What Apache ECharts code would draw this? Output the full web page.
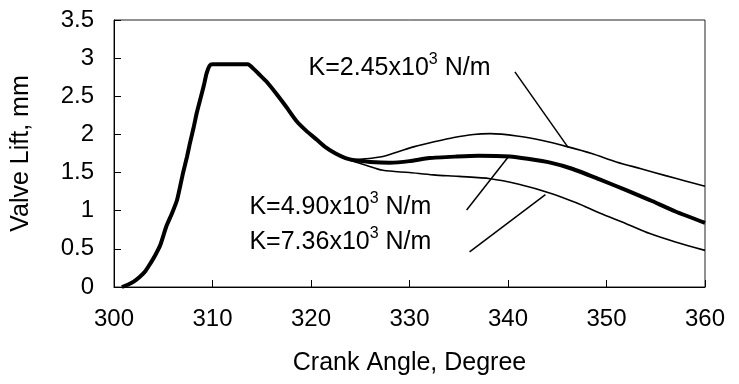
<!DOCTYPE html>
<html>
<head>
<meta charset="utf-8">
<script src="https://cdn.jsdelivr.net/npm/echarts@6/dist/echarts.min.js"></script>
<style>html,body{margin:0;padding:0;background:#fff}#c{width:739px;height:384px}</style>
</head>
<body>
<div id="c"></div>
<script>
// Crank angle (deg), valve lift (mm)
const k490 = [[300.8,0],[301.4,0.03],[302.0,0.07],[302.6,0.13],[303.2,0.21],[303.7,0.31],[304.2,0.42],[304.7,0.55],[305.3,0.79],[305.9,0.97],[306.4,1.14],[307.0,1.49],[307.4,1.7],[307.7,1.88],[308.1,2.1],[308.4,2.28],[308.8,2.48],[309.1,2.63],[309.4,2.8],[309.7,2.9],[310.0,2.92],[313.6,2.92],[314.0,2.88],[314.8,2.78],[315.5,2.69],[316.5,2.53],[317.5,2.36],[318.5,2.18],[319.5,2.05],[320.6,1.93],[321.5,1.83],[322.5,1.75],[323.5,1.69],[324.5,1.66],[326,1.64],[328,1.63],[330,1.65],[332,1.69],[334.8,1.71],[337,1.72],[340.2,1.71],[342,1.68],[344.3,1.63],[346.5,1.55],[349.3,1.41],[352,1.27],[354.4,1.14],[357,0.99],[360,0.84]];
const k245 = [[324.0,1.67],[325.5,1.68],[327.3,1.71],[329,1.78],[330.5,1.84],[332.4,1.9],[334.5,1.96],[336.5,2.0],[338.2,2.01],[340.9,1.98],[343.5,1.92],[346,1.84],[348.5,1.75],[351,1.64],[353.5,1.55],[356,1.46],[358,1.39],[360,1.32]];
const k736 = [[324.0,1.66],[325.5,1.6],[327.3,1.53],[330,1.5],[332.4,1.47],[335,1.45],[338.2,1.42],[341,1.35],[344.3,1.23],[347,1.1],[349.3,0.97],[352,0.83],[354.4,0.7],[357,0.59],[360,0.48]];
const xTicks = {min:300, max:360, interval:10};
const yTicks = {min:0, max:3.5, interval:0.5};
const labelTexts = [['K=2.45x10','3',' N/m'],['K=4.90x10','3',' N/m'],['K=7.36x10','3',' N/m']];
const labelAnchors = [[319.7,2.89],[313.7,1.07],[313.7,0.61]];
const leaders = [[[340.7,2.82],[346.1,1.83]],[[335.8,1.01],[340.0,1.70]],[[336.1,0.46],[343.8,1.21]]];

const FONT = "'Liberation Sans', Arial, sans-serif";
const chart = echarts.init(document.getElementById('c'), null, {renderer:'canvas'});
const rich = {
  n:{fontFamily:FONT,fontSize:25,color:'#000',lineHeight:29,verticalAlign:'bottom'},
  s:{fontFamily:FONT,fontSize:16,color:'#000',lineHeight:29,verticalAlign:'top'}
};
chart.setOption({
  animation:false,
  backgroundColor:'#fff',
  grid:{left:114,right:34,top:20,bottom:97,show:true,borderColor:'#222',borderWidth:1},
  xAxis:{type:'value',min:xTicks.min,max:xTicks.max,interval:xTicks.interval,
    name:'Crank Angle, Degree',nameLocation:'middle',nameGap:64,
    nameTextStyle:{fontFamily:FONT,fontSize:25,color:'#000'},
    axisLine:{lineStyle:{color:'#000',width:1}},
    axisTick:{inside:true,length:7,lineStyle:{color:'#000'}},
    axisLabel:{fontFamily:FONT,fontSize:24,color:'#000',margin:20},
    splitLine:{show:false}},
  yAxis:{type:'value',min:yTicks.min,max:yTicks.max,interval:yTicks.interval,
    name:'Valve Lift, mm',nameLocation:'middle',nameGap:80,
    nameTextStyle:{fontFamily:FONT,fontSize:25,color:'#000'},
    axisLine:{show:true,lineStyle:{color:'#000',width:1}},
    axisTick:{show:true,inside:true,length:7,lineStyle:{color:'#000'}},
    axisLabel:{fontFamily:FONT,fontSize:24,color:'#000',margin:20},
    splitLine:{show:false}},
  series:[
    {type:'line',data:k245,showSymbol:false,smooth:0.3,lineStyle:{color:'#000',width:1.6}},
    {type:'line',data:k736,showSymbol:false,smooth:0.3,lineStyle:{color:'#000',width:1.6}},
    {type:'line',data:k490,showSymbol:false,smooth:0.2,lineStyle:{color:'#000',width:4},z:3,
      markLine:{silent:true,symbol:'none',animation:false,
        lineStyle:{color:'#000',width:1.5,type:'solid'},label:{show:false},
        data:leaders.map(l=>[{coord:l[0]},{coord:l[1]}])},
      markPoint:{silent:true,symbol:'rect',symbolSize:1,itemStyle:{color:'rgba(0,0,0,0)'},
        data:labelAnchors.map((c,i)=>({coord:c,value:i,
          label:{show:true,position:'right',distance:0,
            formatter:'{n|'+labelTexts[i][0]+'}{s|'+labelTexts[i][1]+'}{n|'+labelTexts[i][2]+'}',rich:rich}}))}
    }
  ]
});
</script>
</body>
</html>
